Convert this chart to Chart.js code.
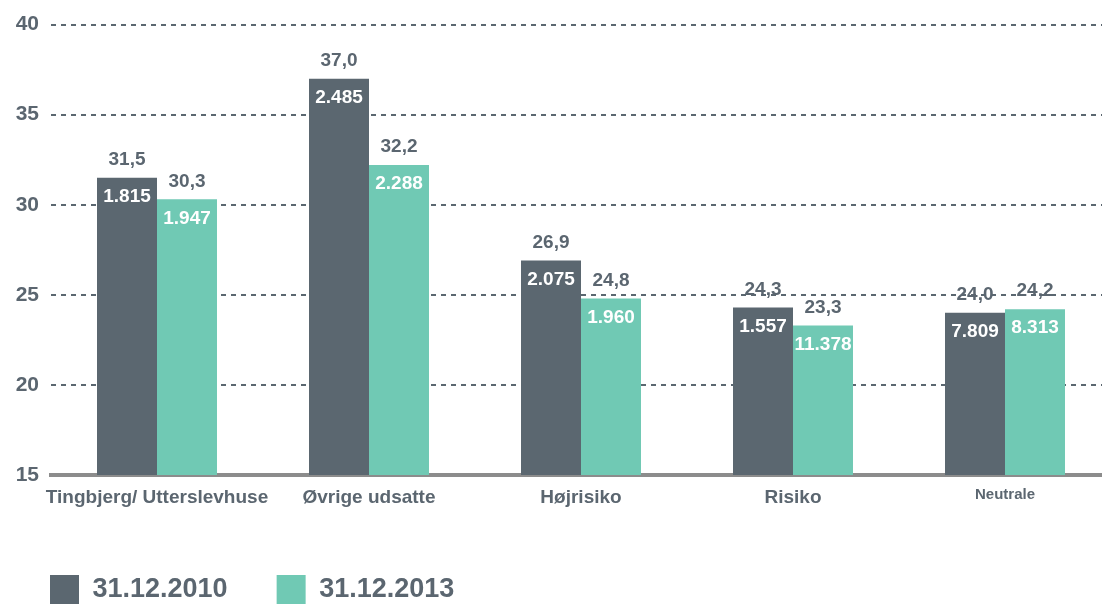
<!DOCTYPE html>
<html>
<head>
<meta charset="utf-8">
<script src="https://cdn.jsdelivr.net/npm/chart.js@4.4.1/dist/chart.umd.min.js"></script>
<style>
  html, body { margin: 0; padding: 0; background: #fff; overflow: hidden; }
  #wrap { position: relative; width: 1116px; height: 614px; }
</style>
</head>
<body>
<div id="wrap"><canvas id="chart"></canvas></div>
<script>
const categories = ["Tingbjerg/ Utterslevhuse", "Øvrige udsatte", "Højrisiko", "Risiko", "Neutrale"];
const seriesNames = ["31.12.2010", "31.12.2013"];
const values2010 = [31.5, 37.0, 26.9, 24.3, 24.0];
const values2013 = [30.3, 32.2, 24.8, 23.3, 24.2];
const counts2010 = [1815, 2485, 2075, 1557, 7809];
const counts2013 = [1947, 2288, 1960, 11378, 8313];
const yTicks = [15, 20, 25, 30, 35, 40];

const COLORS = {
  dark: "#5b6770",
  teal: "#70c9b4",
  text: "#5b6670",
  axis: "#8c8c8c"
};
const FONT = "'Liberation Sans', Arial, sans-serif";

function fmtValue(v) {
  return v.toFixed(1).replace(".", ",");
}
function fmtCount(n) {
  return String(n).replace(/\B(?=(\d{3})+(?!\d))/g, ".");
}

// value above each bar, count inside near the top
const barLabelPlugin = {
  id: "barLabelPlugin",
  afterDatasetsDraw(chart) {
    const { ctx } = chart;
    ctx.save();
    ctx.textAlign = "center";
    ctx.textBaseline = "middle";
    ctx.font = "bold 19px " + FONT;
    chart.data.datasets.forEach((ds, di) => {
      const meta = chart.getDatasetMeta(di);
      meta.data.forEach((bar, i) => {
        ctx.fillStyle = COLORS.text;
        ctx.fillText(fmtValue(ds.data[i]), bar.x, bar.y - 18);
        ctx.fillStyle = "#ffffff";
        ctx.fillText(fmtCount(ds.counts[i]), bar.x, bar.y + 19);
      });
    });
    ctx.restore();
  }
};

new Chart(document.getElementById("chart"), {
  type: "bar",
  data: {
    labels: categories,
    datasets: [
      {
        label: seriesNames[0],
        data: values2010,
        counts: counts2010,
        backgroundColor: COLORS.dark,
        categoryPercentage: 0.566,
        barPercentage: 1
      },
      {
        label: seriesNames[1],
        data: values2013,
        counts: counts2013,
        backgroundColor: COLORS.teal,
        categoryPercentage: 0.566,
        barPercentage: 1
      }
    ]
  },
  options: {
    responsive: true,
    maintainAspectRatio: false,
    animation: false,
    layout: {
      padding: { left: 1, right: 5, top: 22, bottom: 0 }
    },
    plugins: {
      tooltip: { enabled: false },
      legend: {
        position: "bottom",
        align: "start",
        labels: {
          boxWidth: 29,
          boxHeight: 29,
          padding: 49,
          color: COLORS.text,
          font: { family: FONT, size: 27, weight: "bold" }
        }
      }
    },
    scales: {
      x: {
        grid: { display: false, drawTicks: false },
        border: { display: true, color: COLORS.axis, width: 4 },
        ticks: {
          padding: 11,
          autoSkip: false,
          maxRotation: 0,
          minRotation: 0,
          color: COLORS.text,
          font: (c) => ({
            family: FONT,
            weight: "bold",
            size: c.index === 4 ? 15 : 19
          })
        },
        afterFit(scale) {
          scale.height = 51;
          scale.paddingLeft = 0;
          scale.paddingRight = 0;
        }
      },
      y: {
        min: 15,
        max: 40,
        afterBuildTicks(scale) {
          scale.ticks = yTicks.map((v) => ({ value: v }));
        },
        grid: {
          drawTicks: false,
          lineWidth: 2,
          color: (c) => (c.tick && c.tick.value === 15 ? "rgba(0,0,0,0)" : COLORS.dark)
        },
        border: { display: false, dash: [5, 5] },
        ticks: {
          padding: 12,
          color: COLORS.text,
          font: { family: FONT, size: 21, weight: "bold" }
        },
        afterFit(scale) {
          scale.width = 50;
        }
      }
    }
  },
  plugins: [barLabelPlugin]
});
</script>
</body>
</html>
